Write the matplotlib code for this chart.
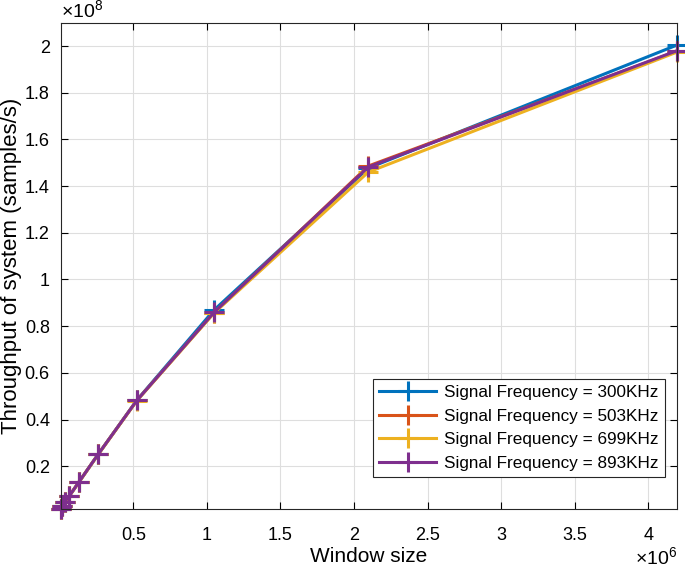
import matplotlib.pyplot as plt
from matplotlib.ticker import FuncFormatter

plt.rcParams['font.family'] = ['Liberation Sans', 'DejaVu Sans']
plt.rcParams['mathtext.fontset'] = 'custom'
plt.rcParams['mathtext.rm'] = 'Liberation Sans'
plt.rcParams['mathtext.it'] = 'Liberation Sans'

window = [8192, 16384, 32768, 65536, 131072, 262144, 524288, 1048576, 2097152, 4194304]

thr_300 = [0.017e8, 0.030e8, 0.047e8, 0.073e8, 0.133e8, 0.252e8, 0.483e8, 0.869e8, 1.477e8, 2.004e8]
thr_503 = [0.017e8, 0.030e8, 0.047e8, 0.073e8, 0.133e8, 0.252e8, 0.482e8, 0.858e8, 1.486e8, 1.978e8]
thr_699 = [0.017e8, 0.030e8, 0.047e8, 0.073e8, 0.132e8, 0.251e8, 0.481e8, 0.856e8, 1.460e8, 1.974e8]
thr_893 = [0.017e8, 0.030e8, 0.047e8, 0.073e8, 0.133e8, 0.252e8, 0.482e8, 0.859e8, 1.482e8, 1.980e8]

labels = ["Signal Frequency = 300KHz", "Signal Frequency = 503KHz",
          "Signal Frequency = 699KHz", "Signal Frequency = 893KHz"]
colors = ["#0072BD", "#D95319", "#EDB120", "#7E2F8E"]

fig = plt.figure(figsize=(6.85, 5.68), dpi=100)
ax = fig.add_axes([0.089, 0.104, 0.899, 0.856])

for y, lab, c in zip([thr_300, thr_503, thr_699, thr_893], labels, colors):
    ax.plot(window, y, color=c, lw=2.2, marker='+', ms=15, mew=2.2, label=lab, clip_on=False)

ax.set_xlim(8192, 4194304)
ax.set_ylim(0.017e8, 2.1e8)
ax.set_xticks([i * 0.5e6 for i in range(1, 9)])
ax.set_yticks([i * 0.2e8 for i in range(1, 11)])
ax.xaxis.set_major_formatter(FuncFormatter(lambda v, p: f"{v / 1e6:g}"))
ax.yaxis.set_major_formatter(FuncFormatter(lambda v, p: f"{v / 1e8:g}"))
ax.tick_params(direction='in', top=True, right=True, labelsize=13, length=5, width=0.8)
ax.tick_params(axis='x', pad=13)
ax.tick_params(axis='y', pad=8)
ax.grid(True, color='#dedede', lw=0.8)
ax.set_axisbelow(True)
for s in ax.spines.values():
    s.set_linewidth(0.8)
    s.set_color('#262626')

ax.set_xlabel("Window size", fontsize=15, labelpad=2)
ax.set_ylabel("Throughput of system (samples/s)", fontsize=16)
ax.yaxis.set_label_coords(-0.063, 0.5)
ax.text(0.0, 1.004, r"$\times10^{8}$", transform=ax.transAxes, fontsize=14, ha='left', va='bottom')
ax.text(1.0, -0.1, r"$\times10^{6}$", transform=ax.transAxes, fontsize=14, ha='right', va='center')

leg = ax.legend(loc='lower right', bbox_to_anchor=(0.9805, 0.0658), borderaxespad=0,
                fontsize=12.3, handlelength=3.3, fancybox=False, edgecolor='#262626',
                framealpha=1, labelspacing=0.5, borderpad=0.35, handletextpad=0.5)
leg.get_frame().set_linewidth(0.8)

fig.savefig("out.png", dpi=100)
